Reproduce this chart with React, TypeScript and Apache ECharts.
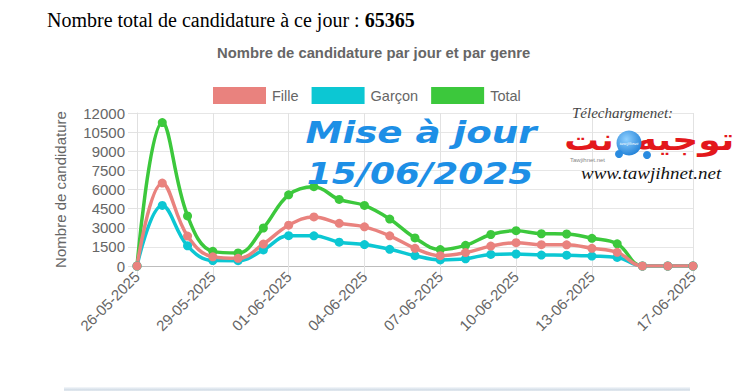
import React, { useEffect, useRef } from "react";
import * as echarts from "echarts";

const dates = [
  "26-05-2025", "27-05-2025", "28-05-2025", "29-05-2025", "30-05-2025", "31-05-2025",
  "01-06-2025", "02-06-2025", "03-06-2025", "04-06-2025", "05-06-2025", "06-06-2025",
  "07-06-2025", "08-06-2025", "09-06-2025", "10-06-2025", "11-06-2025", "12-06-2025",
  "13-06-2025", "14-06-2025", "15-06-2025", "16-06-2025", "17-06-2025",
];
const fille = [0, 6500, 2350, 720, 600, 1720, 3200, 3850, 3350, 3070, 2370, 1390, 810, 1050, 1560, 1830, 1670, 1660, 1390, 1070, 0, 0, 0];
const garcon = [0, 4750, 1580, 430, 420, 1260, 2380, 2370, 1870, 1680, 1310, 810, 480, 570, 910, 940, 860, 850, 780, 670, 0, 0, 0];
const total = [0, 11250, 3930, 1150, 1020, 2980, 5580, 6220, 5220, 4750, 3680, 2200, 1290, 1620, 2470, 2770, 2530, 2510, 2170, 1740, 0, 0, 0];
const labeledIdx = [0, 3, 6, 9, 12, 15, 18, 22];
const yMin = 0;
const yMax = 12000;
const yStep = 1500;

const headline = "Nombre total de candidature à ce jour : ";
const headlineCount = "65365";
const chartTitle = "Nombre de candidature par jour et par genre";
const yName = "Nombre de candidature";
const legendNames = ["Fille", "Garçon", "Total"];
const colors = { Fille: "#e9827e", Garçon: "#0cc7d3", Total: "#3cc83c" };

const SANS = "'Liberation Sans', Arial, sans-serif";
const SERIF = "'Liberation Serif', 'Times New Roman', serif";

export default function App() {
  const ref = useRef<HTMLDivElement>(null);
  useEffect(() => {
    if (!ref.current) return;
    const chart = echarts.init(ref.current, null, { renderer: "svg" });
    const showIdx = (i: number) => labeledIdx.includes(i);
    const mkSeries = (name: string, data: number[]) => ({
      name,
      type: "line",
      data,
      smooth: 0.4,
      showAllSymbol: true,
      symbol: "circle",
      symbolSize: 9,
      lineStyle: { width: 3.5, color: (colors as any)[name] },
      itemStyle: { color: (colors as any)[name] },
    });
    chart.setOption({
      animation: false,
      backgroundColor: "#ffffff",
      title: [
        {
          text: "{a|" + headline + "}{b|" + headlineCount + "}",
          left: 47,
          top: 9,
          padding: 0,
          textStyle: {
            fontWeight: "normal",
            rich: {
              a: { fontFamily: SERIF, fontSize: 20, fontWeight: "normal", color: "#000", lineHeight: 22 },
              b: { fontFamily: SERIF, fontSize: 20, fontWeight: "bold", color: "#000", lineHeight: 22 },
            },
          },
        },
        {
          text: chartTitle,
          left: 217,
          top: 44,
          padding: 0,
          textStyle: { fontFamily: SANS, fontSize: 14.8, fontWeight: "bold", color: "#666", lineHeight: 17 },
        },
      ],
      legend: {
        data: legendNames.map((n) => ({ name: n, icon: "rect" })),
        left: 213,
        top: 87,
        padding: 0,
        itemWidth: 53,
        itemHeight: 17,
        itemGap: 13,
        textStyle: { fontFamily: SANS, fontSize: 14.5, color: "#666", padding: [0, 0, 0, 1] },
      },
      grid: { left: 137, right: 49, top: 113, bottom: 125, containLabel: false },
      xAxis: {
        type: "category",
        data: dates,
        boundaryGap: false,
        axisLine: { show: true, lineStyle: { color: "#bdbdbd", width: 1 } },
        axisTick: { show: true, interval: (i: number) => showIdx(i), length: 10, lineStyle: { color: "#e2e2e2" } },
        axisLabel: {
          interval: (i: number) => showIdx(i),
          rotate: 45,
          margin: 8,
          fontFamily: SANS,
          fontSize: 15,
          color: "#666",
        },
        splitLine: { show: true, interval: (i: number) => showIdx(i), lineStyle: { color: "#e2e2e2", width: 1 } },
      },
      yAxis: {
        type: "value",
        min: yMin,
        max: yMax,
        interval: yStep,
        name: yName,
        nameLocation: "middle",
        nameGap: 69,
        nameTextStyle: { fontFamily: SANS, fontSize: 15, color: "#666" },
        axisLine: { show: true, lineStyle: { color: "#e0e0e0" } },
        axisTick: { show: true, length: 9, lineStyle: { color: "#e2e2e2" } },
        axisLabel: {
          margin: 12,
          fontFamily: SANS,
          fontSize: 15,
          color: "#666",
          formatter: (v: number) => String(v),
        },
        splitLine: { show: true, lineStyle: { color: "#e6e6e6", width: 1 } },
      },
      series: [mkSeries("Total", total), mkSeries("Garçon", garcon), mkSeries("Fille", fille)],
      graphic: [
        {
          type: "text",
          x: 421,
          y: 132,
          scaleX: 1.2,
          z: 100,
          style: {
            text: "Mise à jour",
            align: "center",
            verticalAlign: "middle",
            fontFamily: "'DejaVu Sans', sans-serif",
            fontWeight: "bold",
            fontStyle: "italic",
            fontSize: 31,
            fill: "#1d8fe6",
          },
        },
        {
          type: "text",
          x: 420,
          y: 173,
          scaleX: 1.16,
          z: 100,
          style: {
            text: "15/06/2025",
            align: "center",
            verticalAlign: "middle",
            fontFamily: "'DejaVu Sans', sans-serif",
            fontWeight: "bold",
            fontStyle: "italic",
            fontSize: 31,
            fill: "#1d8fe6",
          },
        },
        {
          type: "text",
          x: 572,
          y: 113,
          z: 100,
          style: {
            text: "Télechargmenet:",
            align: "left",
            verticalAlign: "middle",
            fontFamily: SERIF,
            fontStyle: "italic",
            fontSize: 15,
            fill: "#444",
          },
        },
        {
          type: "text",
          x: 685,
          y: 140,
          scaleX: 1.2,
          z: 100,
          style: {
            text: "توجيه",
            align: "center",
            verticalAlign: "middle",
            fontFamily: "'DejaVu Sans', sans-serif",
            fontWeight: "bold",
            fontSize: 30,
            fill: "#e3181c",
          },
        },
        {
          type: "text",
          x: 589,
          y: 140,
          scaleX: 1.15,
          z: 100,
          style: {
            text: "نت",
            align: "center",
            verticalAlign: "middle",
            fontFamily: "'DejaVu Sans', sans-serif",
            fontWeight: "bold",
            fontSize: 30,
            fill: "#e3181c",
          },
        },
        {
          type: "circle",
          z: 101,
          shape: { cx: 629, cy: 143, r: 12.5 },
          style: {
            fill: new echarts.graphic.RadialGradient(0.4, 0.35, 0.7, [
              { offset: 0, color: "#8fd0ff" },
              { offset: 1, color: "#1f7fd6" },
            ]),
          },
        },
        { type: "circle", z: 101, shape: { cx: 619, cy: 154, r: 4 }, style: { fill: "#2a8be0" } },
        { type: "circle", z: 101, shape: { cx: 647, cy: 155, r: 4 }, style: { fill: "#2a8be0" } },
        {
          type: "text",
          x: 629,
          y: 143,
          z: 102,
          style: {
            text: "tawjihnet",
            align: "center",
            verticalAlign: "middle",
            fontFamily: SERIF,
            fontStyle: "italic",
            fontSize: 5,
            fill: "#ffffff",
          },
        },
        {
          type: "text",
          x: 570,
          y: 160,
          z: 100,
          style: {
            text: "Tawjihnet.net",
            align: "left",
            verticalAlign: "middle",
            fontFamily: SANS,
            fontSize: 6,
            fill: "#888",
          },
        },
        {
          type: "text",
          x: 581,
          y: 173,
          scaleX: 1.12,
          z: 100,
          style: {
            text: "www.tawjihnet.net",
            align: "left",
            verticalAlign: "middle",
            fontFamily: SERIF,
            fontStyle: "italic",
            fontSize: 17,
            fill: "#111",
          },
        },
        {
          type: "rect",
          z: 1,
          shape: { x: 64, y: 387, width: 626, height: 4 },
          style: {
            fill: new echarts.graphic.LinearGradient(0, 0, 0, 1, [
              { offset: 0, color: "#f5f8fb" },
              { offset: 0.7, color: "#d3dde7" },
              { offset: 1, color: "#e6ecf1" },
            ]),
          },
        },
      ],
    });
    return () => chart.dispose();
  }, []);
  return (
    <div
      ref={ref}
      style={{ position: "fixed", left: 0, top: 0, width: 742, height: 391 }}
    />
  );
}
